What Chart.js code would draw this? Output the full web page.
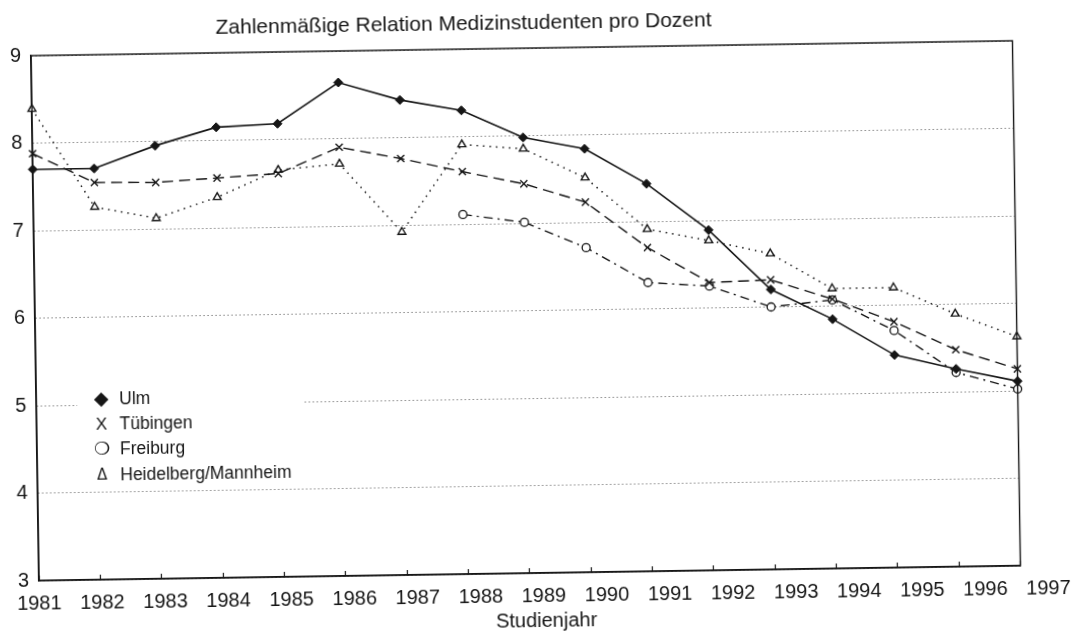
<!DOCTYPE html>
<html lang="de">
<head>
<meta charset="utf-8">
<title>Zahlenmäßige Relation Medizinstudenten pro Dozent</title>
<script src="https://cdn.jsdelivr.net/npm/chart.js@4.4.1/dist/chart.umd.min.js"></script>
<style>
    html, body { margin: 0; padding: 0; background: #fff; overflow: hidden; }
    /* Vorlage ist ein leicht schief eingescannter Ausdruck */
    #wrap { width: 1076px; height: 636px; transform: rotate(-0.87deg); transform-origin: 50% 50%; }
</style>
</head>
<body>
<div id="wrap"><canvas id="chart"></canvas></div>
<script>
// Daten
const years = [1981, 1982, 1983, 1984, 1985, 1986, 1987, 1988, 1989, 1990, 1991, 1992, 1993, 1994, 1995, 1996, 1997];
const yTicks = [3, 4, 5, 6, 7, 8, 9];

const ulm        = [7.70, 7.70, 7.95, 8.15, 8.18, 8.64, 8.43, 8.30, 7.98, 7.84, 7.43, 6.89, 6.20, 5.85, 5.43, 5.26, 5.11];
const tuebingen  = [7.88, 7.54, 7.53, 7.57, 7.61, 7.90, 7.76, 7.60, 7.45, 7.23, 6.70, 6.29, 6.31, 6.08, 5.81, 5.48, 5.25];
const freiburg   = [null, null, null, null, null, null, null, 7.11, 7.01, 6.71, 6.30, 6.25, 6.00, 6.07, 5.71, 5.22, 5.02];
const heidelberg = [8.39, 7.26, 7.12, 7.35, 7.65, 7.71, 6.92, 7.91, 7.85, 7.51, 6.91, 6.77, 6.61, 6.20, 6.20, 5.89, 5.62];

const seriesNames = ['Ulm', 'Tübingen', 'Freiburg', 'Heidelberg/Mannheim'];
const legendSymbols = ['◆', 'X', '❍', 'Δ'];
const chartTitle = 'Zahlenmäßige Relation Medizinstudenten pro Dozent';
const xTitle = 'Studienjahr';

// Jahreszahlen stehen in der Vorlage etwas weiter auseinander als die Datenpunkte
const LABEL_SPREAD = 1.0283;

const FONT = '"Liberation Sans", Arial, sans-serif';
const INK = '#161616';

function toPoints(values) {
    return years.map((x, i) => ({ x: x, y: values[i] }));
}

// Rahmen, Titel, Achsentitel und Legende
const decorPlugin = {
    id: 'decor',
    afterDraw(chart) {
        const { ctx, chartArea: a } = chart;
        ctx.save();

        ctx.strokeStyle = INK;
        ctx.lineWidth = 1.4;
        ctx.strokeRect(a.left, a.top, a.right - a.left, a.bottom - a.top);

        ctx.fillStyle = INK;
        ctx.textAlign = 'center';
        ctx.textBaseline = 'middle';
        ctx.font = '21px ' + FONT;
        ctx.fillText(chartTitle, 468, 23);
        ctx.font = '20px ' + FONT;
        ctx.fillText(xTitle, 542, 621);

        // Legende im Diagramm, weiß hinterlegt
        const symbolFonts = ['19px "DejaVu Sans"', '17px ' + FONT, '18px "DejaVu Sans"', '15px "DejaVu Sans"'];
        ctx.fillStyle = '#fff';
        ctx.fillRect(76, 380, 226, 101);
        ctx.fillStyle = INK;
        ctx.textBaseline = 'middle';
        seriesNames.forEach((name, i) => {
            const y = 393 + i * 25.3;
            ctx.textAlign = 'center';
            ctx.font = symbolFonts[i];
            ctx.fillText(legendSymbols[i], 100, y);
            ctx.textAlign = 'left';
            ctx.font = '17.5px ' + FONT;
            ctx.fillText(name, 118, y);
        });

        ctx.restore();
    }
};

const ctx = document.getElementById('chart');
new Chart(ctx, {
    type: 'line',
    data: {
        datasets: [
            {
                label: seriesNames[0],
                data: toPoints(ulm),
                borderColor: INK,
                borderWidth: 1.6,
                pointStyle: 'rectRot',
                pointRadius: 4.5,
                pointBackgroundColor: INK,
                pointBorderColor: INK,
                pointBorderWidth: 1
            },
            {
                label: seriesNames[1],
                data: toPoints(tuebingen),
                borderColor: INK,
                borderWidth: 1.4,
                borderDash: [11, 6],
                pointStyle: 'crossRot',
                pointRadius: 5,
                pointBorderColor: INK,
                pointBorderWidth: 1.4
            },
            {
                label: seriesNames[2],
                data: toPoints(freiburg),
                borderColor: INK,
                borderWidth: 1.4,
                borderDash: [9, 5, 2, 5],
                pointStyle: 'circle',
                pointRadius: 4,
                pointBackgroundColor: '#fff',
                pointBorderColor: INK,
                pointBorderWidth: 1.3
            },
            {
                label: seriesNames[3],
                data: toPoints(heidelberg),
                borderColor: INK,
                borderWidth: 1.5,
                borderDash: [1.5, 5],
                pointStyle: 'triangle',
                pointRadius: 4.5,
                pointBackgroundColor: '#fff',
                pointBorderColor: INK,
                pointBorderWidth: 1.4
            }
        ]
    },
    options: {
        responsive: true,
        maintainAspectRatio: false,
        animation: false,
        devicePixelRatio: 1,
        layout: { padding: { left: 4, right: 56, top: 48, bottom: 17 } },
        elements: { line: { tension: 0 } },
        datasets: { line: { clip: false } },
        plugins: {
            legend: { display: false },
            title: { display: false },
            tooltip: { enabled: false }
        },
        scales: {
            x: {
                type: 'linear',
                position: 'bottom',
                min: years[0],
                max: years[years.length - 1],
                afterBuildTicks: (s) => { s.ticks = years.map(v => ({ value: v })); },
                afterFit: (s) => { s.height = 0; },
                ticks: { display: false },
                grid: {
                    drawOnChartArea: false,
                    drawTicks: true,
                    tickLength: -5,
                    tickColor: INK,
                    tickWidth: 1.2
                },
                border: { display: true, color: INK, width: 1.4 }
            },
            xl: {
                type: 'linear',
                position: 'bottom',
                min: years[0],
                max: years[0] + (years[years.length - 1] - years[0]) / LABEL_SPREAD,
                afterBuildTicks: (s) => { s.ticks = years.map(v => ({ value: v })); },
                ticks: {
                    autoSkip: false,
                    maxRotation: 0,
                    padding: 11,
                    color: INK,
                    font: { family: FONT, size: 20 },
                    callback: (v) => String(v)
                },
                grid: { display: false, drawTicks: false },
                border: { display: false }
            },
            y: {
                min: 3,
                max: 9,
                afterBuildTicks: (s) => { s.ticks = yTicks.map(v => ({ value: v })); },
                ticks: {
                    padding: 10,
                    color: INK,
                    font: { family: FONT, size: 20 }
                },
                grid: { color: '#858585', lineWidth: 1, drawTicks: false },
                border: { display: true, color: INK, width: 1.4, dash: [1.5, 2.5] }
            }
        }
    },
    plugins: [decorPlugin]
});
</script>
</body>
</html>
